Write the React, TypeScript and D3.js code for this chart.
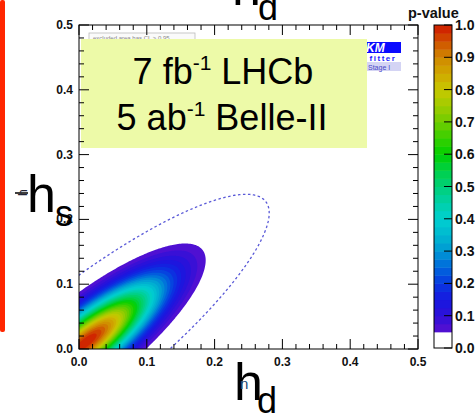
import React, { useMemo } from 'react';
import * as d3 from 'd3';

// ---- data ----
const xTicks = [0, 0.1, 0.2, 0.3, 0.4, 0.5];
const yTicks = [0, 0.1, 0.2, 0.3, 0.4, 0.5];
const pTicks = [0, 0.1, 0.2, 0.3, 0.4, 0.5, 0.6, 0.7, 0.8, 0.9, 1.0];
const pLevels = [
  0.05, 0.075, 0.1, 0.125, 0.15, 0.175, 0.2, 0.225, 0.25, 0.275, 0.3, 0.325,
  0.35, 0.375, 0.4, 0.425, 0.45, 0.475, 0.5, 0.525, 0.55, 0.575, 0.6, 0.625,
  0.65, 0.675, 0.7, 0.725, 0.75, 0.775, 0.8, 0.825, 0.85, 0.875, 0.9, 0.925,
  0.95, 0.975,
];
const paletteStops = [0.05, 0.1, 0.15, 0.2, 0.25, 0.3, 0.35, 0.4, 0.45, 0.5, 0.55, 0.6, 0.65, 0.7, 0.75, 0.8, 0.85, 0.9, 0.95, 1.0];
const paletteColors = [
  '#5a10d0', '#2e10d8', '#1818e0', '#0838e0', '#0068dc', '#0098d4', '#00b8d0',
  '#00d0d0', '#00d0a8', '#00d078', '#00d048', '#00d000', '#38d000', '#70cc00',
  '#a0cc00', '#c8c800', '#d0a800', '#d08800', '#d05000', '#d01800',
];
// Fitted Gaussian p-value field (2 dof): centre and quadratic form (a, b, c), Q = 1 on the 95% CL boundary
const fitCenter = [0.01, 0.01];
const fitMatrix = [103, -99, 138];
const chi2At95 = 5.99;
// Dashed (comparison) 95% CL contour
const dashedCenter = [0, 0];
const dashedMatrix = [55.7, -57.5, 76.9];

const W = 476;
const H = 415;
const plot = { left: 79, right: 418, top: 25, bottom: 349 };
const bar = { left: 434, right: 452, top: 25, bottom: 348 };
const FONT = '"Liberation Sans", Arial, sans-serif';

function quad(m: number[], c: number[], x: number, y: number) {
  const u = x - c[0];
  const v = y - c[1];
  return m[0] * u * u + 2 * m[1] * u * v + m[2] * v * v;
}

export default function App() {
  const xs = d3.scaleLinear().domain([0, 0.5]).range([plot.left, plot.right]);
  const ys = d3.scaleLinear().domain([0, 0.5]).range([plot.bottom, plot.top]);
  const bs = d3.scaleLinear().domain([0, 1]).range([bar.bottom, bar.top]);
  const palette = d3
    .scaleLinear<string>()
    .domain(paletteStops)
    .range(paletteColors)
    .interpolate(d3.interpolateRgb)
    .clamp(true);

  const step = 0.002;
  const g0 = -0.36;
  const n = 461;

  const { bands, dashed } = useMemo(() => {
    const pv = new Array(n * n);
    const dq = new Array(n * n);
    for (let j = 0; j < n; j++) {
      const y = g0 + j * step;
      for (let i = 0; i < n; i++) {
        const x = g0 + i * step;
        const chi2 = chi2At95 * quad(fitMatrix, fitCenter, x, y);
        pv[j * n + i] = Math.exp(-chi2 / 2);
        dq[j * n + i] = -quad(dashedMatrix, dashedCenter, x, y);
      }
    }
    const toPath = (geom: any) =>
      geom.coordinates
        .map((poly: number[][][]) =>
          poly
            .map(
              (ring) =>
                'M' +
                ring
                  .map(
                    (p) =>
                      xs(g0 + (p[0] - 0.5) * step).toFixed(2) +
                      ',' +
                      ys(g0 + (p[1] - 0.5) * step).toFixed(2)
                  )
                  .join('L') +
                'Z'
            )
            .join('')
        )
        .join('');
    const cs = d3.contours().size([n, n]).thresholds(pLevels)(pv);
    const bands = cs.map((c, k) => {
      const lo = pLevels[k];
      const hi = k + 1 < pLevels.length ? pLevels[k + 1] : 1;
      return { d: toPath(c), color: palette((lo + hi) / 2) };
    });
    const dc = d3.contours().size([n, n]).thresholds([-1])(dq);
    return { bands, dashed: toPath(dc[0]) };
  }, []);

  const minor = d3.range(0, 0.5001, 0.02);
  const isMajor = (v: number) => Math.abs(v * 10 - Math.round(v * 10)) < 1e-6;

  return (
    <svg width={W} height={H} style={{ position: 'absolute', left: 0, top: 0 }} fontFamily={FONT}>
      <rect x={0} y={0} width={W} height={H} fill="#fff" />
      {/* red side bar */}
      <rect x={0} y={0} width={5} height={332} rx={2} fill="#ff2600" />

      <defs>
        <clipPath id="plotclip">
          <rect x={plot.left} y={plot.top} width={plot.right - plot.left} height={plot.bottom - plot.top} />
        </clipPath>
      </defs>

      {/* filled p-value contours */}
      <g clipPath="url(#plotclip)">
        {bands.map((b, i) => (
          <path key={i} d={b.d} fill={b.color} stroke="none" />
        ))}
        <path d={dashed} fill="none" stroke="#5a5ad8" strokeWidth={1.3} strokeDasharray="2.5,2.5" />
      </g>

      {/* small CL note box behind legend */}
      <rect x={89} y={33} width={106} height={14} fill="#fafafa" stroke="#bbb" strokeWidth={0.8} />
      <text x={93} y={40} fontSize={6} fill="#888">excluded area has CL &gt; 0.95</text>

      {/* CKMfitter logo */}
      <rect x={340} y={42} width={61} height={11} fill="#0a0aff" />
      <text x={371} y={52} fontSize={12} fontWeight="bold" fontStyle="italic" fill="#fff" textAnchor="middle">CKM</text>
      <text x={383} y={60.5} fontSize={8} fontWeight="bold" fill="#1a1aff" textAnchor="middle" letterSpacing={1.5}>fitter</text>
      <rect x={340} y={62} width={61} height={9} fill="#d4d4f4" />
      <text x={368} y={69.5} fontSize={7} fill="#4848c8">Stage I</text>

      {/* legend box */}
      <rect x={81} y={39} width={286} height={109} fill="#edfaa8" />
      <text x={223} y={84} fontSize={36} textAnchor="middle" fill="#000">
        7 fb<tspan fontSize={21} dy={-14}>-1</tspan>
        <tspan dy={14}> LHCb</tspan>
      </text>
      <text x={222} y={130} fontSize={36} textAnchor="middle" fill="#000">
        5 ab<tspan fontSize={21} dy={-14}>-1</tspan>
        <tspan dy={14}> Belle-II</tspan>
      </text>

      {/* frame */}
      <rect
        x={plot.left}
        y={plot.top}
        width={plot.right - plot.left}
        height={plot.bottom - plot.top}
        fill="none"
        stroke="#000"
        strokeWidth={1}
      />
      {/* ticks */}
      <g stroke="#000" strokeWidth={1}>
        {minor.map((v, i) => {
          const L = isMajor(v) ? 10 : 5;
          const x = xs(v);
          const y = ys(v);
          return (
            <g key={i}>
              <line x1={x} x2={x} y1={plot.bottom} y2={plot.bottom - L} />
              <line x1={x} x2={x} y1={plot.top} y2={plot.top + L} />
              <line x1={plot.left} x2={plot.left + L} y1={y} y2={y} />
              <line x1={plot.right} x2={plot.right - L} y1={y} y2={y} />
            </g>
          );
        })}
      </g>
      {/* tick labels */}
      <g fontSize={12} fontWeight="bold" fill="#111">
        {xTicks.map((v) => (
          <text key={'x' + v} x={xs(v)} y={366} textAnchor="middle">
            {v.toFixed(1)}
          </text>
        ))}
        {yTicks.map((v) => (
          <text key={'y' + v} x={73} y={ys(v) + 4} textAnchor="end">
            {v.toFixed(1)}
          </text>
        ))}
      </g>

      {/* colour bar */}
      {bands.map((b, k) => {
        const lo = pLevels[k];
        const hi = k + 1 < pLevels.length ? pLevels[k + 1] : 1;
        return (
          <rect
            key={'cb' + k}
            x={bar.left}
            y={bs(hi)}
            width={bar.right - bar.left}
            height={bs(lo) - bs(hi) + 0.5}
            fill={b.color}
          />
        );
      })}
      <rect
        x={bar.left}
        y={bar.top}
        width={bar.right - bar.left}
        height={bar.bottom - bar.top}
        fill="none"
        stroke="#000"
        strokeWidth={1}
      />
      <g stroke="#000" strokeWidth={1}>
        {pTicks.map((v) => (
          <line key={'pt' + v} x1={bar.right} x2={bar.right - 8} y1={bs(v)} y2={bs(v)} />
        ))}
      </g>
      <g fontSize={14} fontWeight="bold" fill="#111">
        {pTicks.map((v) => (
          <text key={'pl' + v} x={455} y={bs(v) + 5}>
            {v.toFixed(1)}
          </text>
        ))}
      </g>
      <text x={408} y={18} fontSize={14.5} fontWeight="bold" fill="#111">p-value</text>

      {/* axis titles */}
      <text x={232} y={5} fontSize={52} fill="#000">h</text>
      <text x={258} y={20} fontSize={36} fill="#000">d</text>

      <text x={234} y={400} fontSize={52} fill="#000">h</text>
      <text x={240} y={389} fontSize={15} fill="#234a7a">n</text>
      <text x={257} y={413} fontSize={36} fill="#000">d</text>

      <line x1={15} x2={28} y1={193} y2={193} stroke="#000" strokeWidth={1.5} />
      <text x={0} y={0} fontSize={12} fill="#223" transform="translate(27,196) rotate(-90)">h</text>
      <text x={27} y={212} fontSize={52} fill="#000">h</text>
      <text x={55} y={226} fontSize={36} fill="#000">s</text>
    </svg>
  );
}
